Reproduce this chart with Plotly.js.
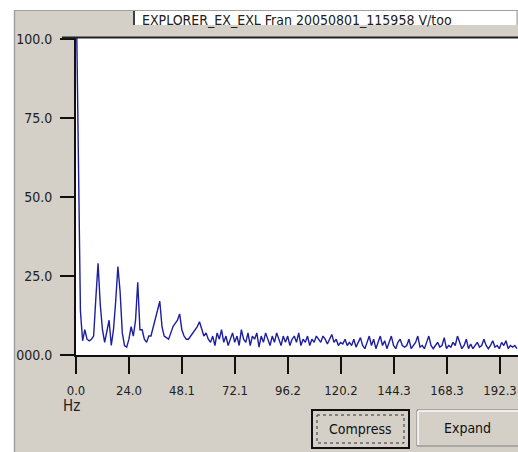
<!DOCTYPE html>
<html>
<head>
<meta charset="utf-8">
<script src="https://cdn.plot.ly/plotly-3.0.1.min.js"></script>
<style>
html,body{margin:0;padding:0;background:#fff;}
#chart{width:518px;height:452px;}
</style>
</head>
<body>
<div id="chart"></div>
<script>
// Frequency axis (Hz), 1 Hz steps
const freqHz = [];
for (let i = 0; i <= 200; i++) freqHz.push(i);

// Amplitude
const amplitude = [
  120, 63, 14, 4.5, 8, 5, 4.5, 5, 6, 18,
  29, 16, 8, 4, 7, 11, 3, 8, 17, 28,
  20, 7, 3, 2.5, 5, 9, 6, 11, 23, 8,
  8, 5, 4, 6, 6, 9, 12, 14, 17, 9,
  6, 5.5, 5, 7, 9, 10, 11, 13, 8, 6,
  5, 5, 6, 7, 8, 9, 10.5, 8, 6, 7,
  5, 4, 6, 3, 7, 5, 8, 4, 6, 3,
  5, 7, 4, 6, 3, 8, 5, 4, 7, 3,
  6, 5, 7, 2.5, 6, 4, 7, 5, 3, 6,
  4, 7, 5, 3, 6, 4, 6, 3, 5, 6,
  4, 7, 3, 5, 4, 6, 3, 5, 4, 6,
  5, 4, 6, 5, 3.5, 5, 6.5, 4, 5, 3,
  4, 3.5, 5, 3, 4, 3, 5, 2.5, 4, 5.5,
  3, 2, 4, 6, 3, 5, 2, 4, 6, 3,
  4.5, 2, 4, 6, 3, 2, 4, 5, 3, 2.5,
  3, 5, 2, 3, 4, 6, 2.5, 3, 2, 4,
  6, 3, 2, 3, 4, 2.5, 3, 5.5, 2, 3,
  2.5, 4, 3, 6, 4, 2, 3, 5, 2, 3.5,
  2, 3, 4, 2.5, 3, 5, 3, 2, 3, 4.5,
  2.5, 3, 2, 4, 3, 4.5, 2, 3, 2.5, 3,
  2
];

const xTickVals = [0, 24.04, 48.08, 72.12, 96.16, 120.2, 144.24, 168.28, 192.32];
const xTickText = ['0.0', '24.0', '48.1', '72.1', '96.2', '120.2', '144.3', '168.3', '192.3'];
const yTickVals = [0, 25, 50, 75, 100];
const yTickText = ['000.0', '25.0', '50.0', '75.0', '100.0'];

const titleText = 'EXPLORER_EX_EXL Fran 20050801_115958 V/too';

// pixel -> paper helpers (plot area: x 76..518, y 37..355)
const L = 76, R = 518, T = 37, B = 355;
const px = x => (x - L) / (R - L);
const py = y => (B - y) / (B - T);

const font = 'DejaVu Sans Condensed, Liberation Sans Narrow, Liberation Sans, Arial, sans-serif';

const shapes = [
  {type:'rect', xref:'paper', yref:'paper', x0:px(0), x1:px(14), y0:py(0), y1:py(452), fillcolor:'#ffffff', line:{width:0}, layer:'below'},
  {type:'rect', xref:'paper', yref:'paper', x0:px(0), x1:px(518), y0:py(0), y1:py(10), fillcolor:'#ffffff', line:{width:0}, layer:'below'},
  {type:'line', xref:'paper', yref:'paper', x0:px(14.5), x1:px(14.5), y0:py(10), y1:py(452), line:{color:'#a0a0a0', width:1.5}},
  {type:'line', xref:'paper', yref:'paper', x0:px(14), x1:px(518), y0:py(10.5), y1:py(10.5), line:{color:'#a0a0a0', width:1}},
  {type:'rect', xref:'paper', yref:'paper', x0:px(133), x1:px(517), y0:py(11), y1:py(25), fillcolor:'#ffffff', line:{width:0}},
  {type:'line', xref:'paper', yref:'paper', x0:px(134), x1:px(134), y0:py(11), y1:py(25), line:{color:'#404040', width:2}},
  {type:'line', xref:'paper', yref:'paper', x0:px(517), x1:px(517), y0:py(11), y1:py(25), line:{color:'#a0a0a0', width:1}},
  {type:'line', xref:'paper', yref:'paper', x0:px(62), x1:px(518), y0:py(37.5), y1:py(37.5), line:{color:'#202020', width:2}},
  {type:'rect', xref:'paper', yref:'paper', x0:px(312), x1:px(409), y0:py(410), y1:py(448), fillcolor:'#d4d0c8', line:{color:'#101010', width:2}},
  {type:'rect', xref:'paper', yref:'paper', x0:px(317), x1:px(404), y0:py(415), y1:py(443), fillcolor:'rgba(0,0,0,0)', line:{color:'#303030', width:1, dash:'dot'}},
  {type:'rect', xref:'paper', yref:'paper', x0:px(417), x1:px(519), y0:py(410), y1:py(446), fillcolor:'#d4d0c8', line:{color:'#808080', width:1}},
  {type:'line', xref:'paper', yref:'paper', x0:px(418), x1:px(518), y0:py(411), y1:py(411), line:{color:'#ffffff', width:1.5}},
  {type:'line', xref:'paper', yref:'paper', x0:px(418), x1:px(418), y0:py(411), y1:py(445), line:{color:'#ffffff', width:1.5}}
];

const annotations = [
  {xref:'paper', yref:'paper', x:px(140), y:py(20), text:titleText, showarrow:false, xanchor:'left', yanchor:'middle', font:{family:font, size:14, color:'#202020'}},
  {xref:'paper', yref:'paper', x:px(71), y:py(406), text:'Hz', showarrow:false, xanchor:'center', yanchor:'middle', font:{family:font, size:15, color:'#202020'}},
  {xref:'paper', yref:'paper', x:px(360.5), y:py(429), text:'Compress', showarrow:false, xanchor:'center', yanchor:'middle', font:{family:font, size:14, color:'#101010'}},
  {xref:'paper', yref:'paper', x:px(467), y:py(428), text:'Expand', showarrow:false, xanchor:'center', yanchor:'middle', font:{family:font, size:14, color:'#101010'}}
];

const trace = {
  x: freqHz,
  y: amplitude,
  type: 'scatter',
  mode: 'lines',
  line: {color: '#1e1ea0', width: 1.4},
  hoverinfo: 'skip',
  cliponaxis: true
};

const layout = {
  width: 518,
  height: 452,
  margin: {l: L, r: 0, t: T, b: 452 - B, pad: 0},
  paper_bgcolor: '#d4d0c8',
  plot_bgcolor: '#ffffff',
  showlegend: false,
  xaxis: {
    range: [0, (R - L) / 2.205],
    tickmode: 'array',
    tickvals: xTickVals,
    ticktext: xTickText,
    ticks: 'outside',
    ticklen: 17,
    tickwidth: 2.5,
    tickcolor: '#101010',
    showline: true,
    linecolor: '#101010',
    linewidth: 2,
    showgrid: false,
    zeroline: false,
    ticklabelstandoff: 5,
    tickfont: {family: font, size: 13, color: '#202020'},
    fixedrange: true
  },
  yaxis: {
    range: [0, (B - T) / 3.16],
    tickmode: 'array',
    tickvals: yTickVals,
    ticktext: yTickText,
    ticks: 'outside',
    ticklen: 14,
    tickwidth: 2.5,
    tickcolor: '#101010',
    showline: true,
    linecolor: '#101010',
    linewidth: 2,
    showgrid: false,
    zeroline: false,
    ticklabelstandoff: 5,
    tickfont: {family: font, size: 14, color: '#202020'},
    fixedrange: true
  },
  shapes: shapes,
  annotations: annotations
};

Plotly.newPlot('chart', [trace], layout, {displayModeBar: false, staticPlot: true});
</script>
</body>
</html>
